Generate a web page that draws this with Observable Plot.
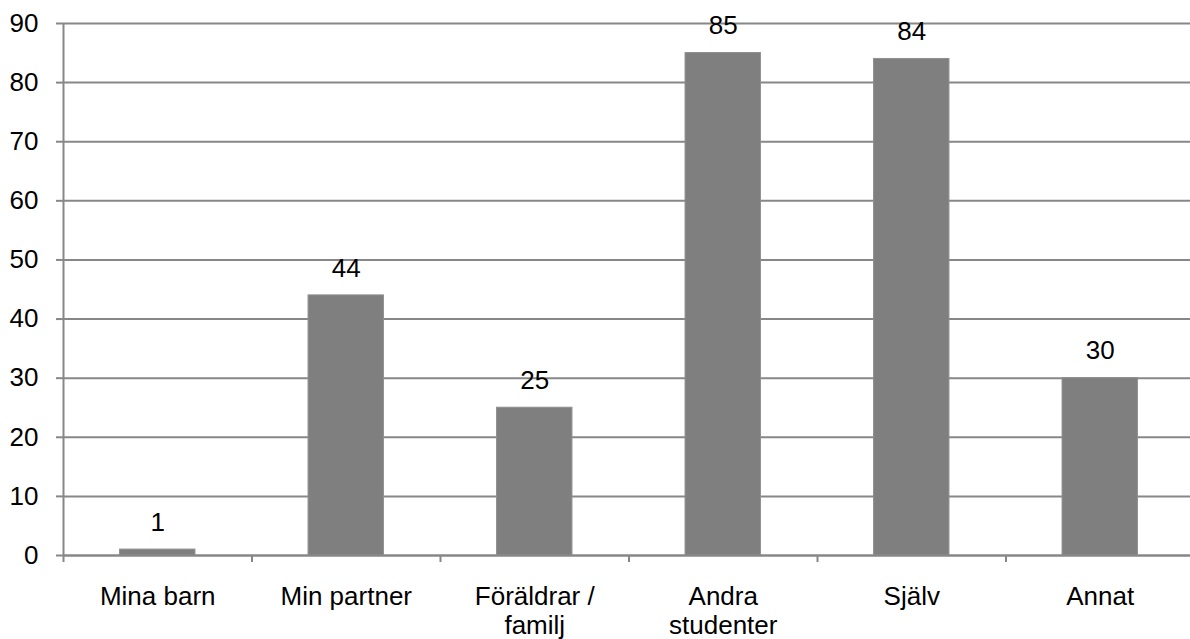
<!DOCTYPE html>
<html><head><meta charset="utf-8">
<script src="https://cdn.jsdelivr.net/npm/d3@7"></script>
<script src="https://cdn.jsdelivr.net/npm/@observablehq/plot@0.6"></script>
<style>html,body{margin:0;padding:0;background:#fff;overflow:hidden}</style>
</head><body><div id="chart"></div>
<script>
const categories = ["Mina barn", "Min partner", "Föräldrar / familj", "Andra studenter", "Själv", "Annat"];
const tickLabels = ["Mina barn", "Min partner", "Föräldrar /\nfamilj", "Andra\nstudenter", "Själv", "Annat"];
const values = [1, 44, 25, 85, 84, 30];
const yTicks = [0, 10, 20, 30, 40, 50, 60, 70, 80, 90];

const data = categories.map((c, i) => ({category: c, label: tickLabels[i], value: values[i], i}));
const gridColor = "#878787";
const fs = 26;

const chart = Plot.plot({
  width: 1190, height: 639,
  marginTop: 23, marginBottom: 84, marginLeft: 63, marginRight: 0,
  style: {fontFamily: "'Liberation Sans', Arial, sans-serif", fontSize: fs + "px", color: "#000", background: "#fff"},
  x: {domain: [0, categories.length], range: [63, 1194]},
  y: {domain: [0, 90]},
  marks: [
    Plot.gridY(yTicks, {stroke: gridColor, strokeOpacity: 1, strokeWidth: 2}),
    Plot.rectY(data, {x1: d => d.i + 0.3, x2: d => d.i + 0.7, y: "value", fill: "#7f7f7f", stroke: "#8f8f8f", strokeWidth: 1}),
    Plot.ruleX([0], {stroke: gridColor, strokeWidth: 2}),
    Plot.ruleY([0], {stroke: gridColor, strokeWidth: 2}),
    Plot.axisY(yTicks, {tickSize: 7, tickPadding: 18, stroke: gridColor, strokeWidth: 2, fill: "#000", label: null, fontSize: fs}),
    Plot.axisX(d3.range(categories.length + 1), {tickSize: 7, stroke: gridColor, strokeWidth: 2, tickFormat: () => "", label: null}),
    Plot.axisX(data.map(d => d.i + 0.5), {tickSize: 0, tickPadding: 30, tickFormat: x => tickLabels[Math.floor(x)], lineHeight: 1.08, fill: "#000", fontSize: fs, label: null}),
    Plot.text(data, {x: d => d.i + 0.5, y: "value", text: d => String(d.value), dy: -27, fontSize: fs, fill: "#000"})
  ]
});
document.getElementById("chart").appendChild(chart);
</script>
</body></html>
